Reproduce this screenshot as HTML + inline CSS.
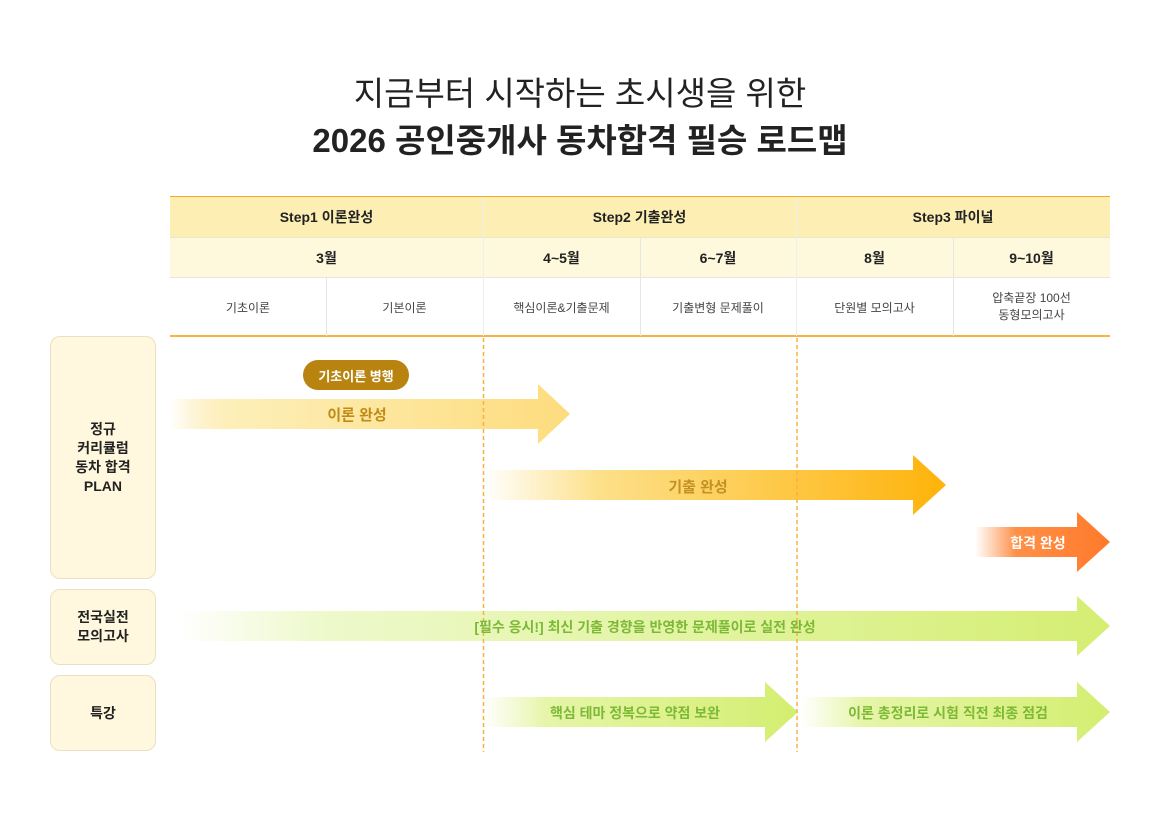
<!DOCTYPE html>
<html><head><meta charset="utf-8"><style>
body{margin:0;width:1160px;height:836px;background:#fff;position:relative;font-family:"Liberation Sans","Noto Sans CJK KR",sans-serif;overflow:hidden}
.a{position:absolute}
.t{position:absolute;text-align:center;white-space:nowrap}
.c{position:absolute;display:flex;align-items:center;justify-content:center;text-align:center;box-sizing:border-box}
.lb{position:absolute;left:50px;width:106px;background:#fff8de;border:1px solid #e9e0c2;border-radius:10px;box-sizing:border-box;display:flex;align-items:center;justify-content:center;text-align:center;font-weight:bold;font-size:14px;color:#222;line-height:19px}
</style></head><body>
<div class="t" style="left:0;width:1160px;top:67px;font-size:33px;color:#222;">지금부터 시작하는 초시생을 위한</div>
<div class="t" style="left:0;width:1160px;top:114px;font-size:33px;font-weight:bold;color:#222;">2026 공인중개사 동차합격 필승 로드맵</div>

<div class="a" style="left:170px;top:196px;width:940px;height:41px;background:#fdefb4;border-top:1.5px solid #f9a825;box-sizing:border-box"></div>
<div class="a" style="left:170px;top:237px;width:940px;height:41px;background:#fef8dc;border-top:1px solid #ece6d0;border-bottom:1px solid #e6e6e6;box-sizing:border-box"></div>
<div class="a" style="left:170px;top:335px;width:940px;height:2px;background:#fbb040"></div>
<div class="a" style="left:483px;top:197px;width:1px;height:139px;background:#eee"></div>
<div class="a" style="left:796px;top:197px;width:1px;height:139px;background:#eee"></div>
<div class="a" style="left:640px;top:237px;width:1px;height:99px;background:#e6e6e6"></div>
<div class="a" style="left:953px;top:237px;width:1px;height:99px;background:#e6e6e6"></div>
<div class="a" style="left:326px;top:278px;width:1px;height:58px;background:#e6e6e6"></div>

<div class="c" style="left:170px;top:196px;width:313px;height:41px;font-size:14px;font-weight:bold;color:#222">Step1 이론완성</div>
<div class="c" style="left:483px;top:196px;width:313px;height:41px;font-size:14px;font-weight:bold;color:#222">Step2 기출완성</div>
<div class="c" style="left:796px;top:196px;width:314px;height:41px;font-size:14px;font-weight:bold;color:#222">Step3 파이널</div>
<div class="c" style="left:170px;top:237px;width:313px;height:41px;font-size:14px;font-weight:bold;color:#222">3월</div>
<div class="c" style="left:483px;top:237px;width:157px;height:41px;font-size:14px;font-weight:bold;color:#222">4~5월</div>
<div class="c" style="left:640px;top:237px;width:156px;height:41px;font-size:14px;font-weight:bold;color:#222">6~7월</div>
<div class="c" style="left:796px;top:237px;width:157px;height:41px;font-size:14px;font-weight:bold;color:#222">8월</div>
<div class="c" style="left:953px;top:237px;width:157px;height:41px;font-size:14px;font-weight:bold;color:#222">9~10월</div>
<div class="c" style="left:170px;top:278px;width:156px;height:58px;font-size:12px;color:#444">기초이론</div>
<div class="c" style="left:326px;top:278px;width:157px;height:58px;font-size:12px;color:#444">기본이론</div>
<div class="c" style="left:483px;top:278px;width:157px;height:58px;font-size:12px;color:#444">핵심이론&amp;기출문제</div>
<div class="c" style="left:640px;top:278px;width:156px;height:58px;font-size:12px;color:#444">기출변형 문제풀이</div>
<div class="c" style="left:796px;top:278px;width:157px;height:58px;font-size:12px;color:#444">단원별 모의고사</div>
<div class="c" style="left:953px;top:278px;width:157px;height:58px;font-size:12px;color:#444;line-height:17px">압축끝장 100선<br>동형모의고사</div>

<div class="lb" style="top:336px;height:243px">정규<br>커리큘럼<br>동차 합격<br>PLAN</div>
<div class="lb" style="top:589px;height:76px">전국실전<br>모의고사</div>
<div class="lb" style="top:675px;height:76px">특강</div>

<svg class="a" style="left:0;top:0" width="1160" height="836">
<defs>
<linearGradient id="g1" gradientUnits="userSpaceOnUse" x1="170" x2="570"><stop offset="0" stop-color="#fde08a" stop-opacity="0"/><stop offset="0.15" stop-color="#fdefb8"/><stop offset="1" stop-color="#fddc7e"/></linearGradient>
<linearGradient id="g2" gradientUnits="userSpaceOnUse" x1="483" x2="946"><stop offset="0" stop-color="#fde28c" stop-opacity="0"/><stop offset="0.25" stop-color="#fde08a"/><stop offset="1" stop-color="#feb30a"/></linearGradient>
<linearGradient id="g3" gradientUnits="userSpaceOnUse" x1="975" x2="1110"><stop offset="0" stop-color="#ff9a5a" stop-opacity="0"/><stop offset="0.3" stop-color="#ff9048"/><stop offset="1" stop-color="#ff7a2a"/></linearGradient>
<linearGradient id="g4" gradientUnits="userSpaceOnUse" x1="180" x2="1110"><stop offset="0" stop-color="#eef8c8" stop-opacity="0"/><stop offset="0.15" stop-color="#eef9cc"/><stop offset="1" stop-color="#d5ee72"/></linearGradient>
<linearGradient id="g5" gradientUnits="userSpaceOnUse" x1="483" x2="798"><stop offset="0" stop-color="#e8f6b0" stop-opacity="0"/><stop offset="0.2" stop-color="#e6f5a8"/><stop offset="1" stop-color="#d4ee70"/></linearGradient>
<linearGradient id="g6" gradientUnits="userSpaceOnUse" x1="800" x2="1110"><stop offset="0" stop-color="#e8f6b0" stop-opacity="0"/><stop offset="0.2" stop-color="#e6f5a8"/><stop offset="1" stop-color="#d4ee70"/></linearGradient>
</defs>
<polygon fill="url(#g1)" points="170,399 538,399 538,384 570,414 538,444 538,429 170,429"/>
<polygon fill="url(#g2)" points="483,470 913,470 913,455 946,485 913,515 913,500 483,500"/>
<polygon fill="url(#g3)" points="975,527 1077,527 1077,512 1110,542 1077,572 1077,557 975,557"/>
<polygon fill="url(#g4)" points="180,611 1077,611 1077,596 1110,626 1077,656 1077,641 180,641"/>
<polygon fill="url(#g5)" points="483,697 765,697 765,682 798,712 765,742 765,727 483,727"/>
<polygon fill="url(#g6)" points="800,697 1077,697 1077,682 1110,712 1077,742 1077,727 800,727"/>
<line x1="483.5" y1="338" x2="483.5" y2="752" stroke="#f9b040" stroke-width="1.5" stroke-dasharray="4,3"/>
<line x1="797" y1="338" x2="797" y2="752" stroke="#f9b040" stroke-width="1.5" stroke-dasharray="4,3"/>
</svg>

<div class="c" style="left:303px;top:360px;width:106px;height:30px;border-radius:15px;background:#b8830f;color:#fff;font-size:13px;font-weight:bold">기초이론 병행</div>
<div class="t" style="left:257px;width:200px;top:404px;font-size:15px;font-weight:bold;color:#c08a14">이론 완성</div>
<div class="t" style="left:598px;width:200px;top:476px;font-size:15px;font-weight:bold;color:#c39024">기출 완성</div>
<div class="t" style="left:978px;width:120px;top:533px;font-size:14px;font-weight:bold;color:#fff">합격 완성</div>
<div class="t" style="left:345px;width:600px;top:617px;font-size:14px;font-weight:bold;color:#7cb936">[필수 응시!] 최신 기출 경향을 반영한 문제풀이로 실전 완성</div>
<div class="t" style="left:485px;width:300px;top:703px;font-size:14px;font-weight:bold;color:#7cb936">핵심 테마 정복으로 약점 보완</div>
<div class="t" style="left:798px;width:300px;top:703px;font-size:14px;font-weight:bold;color:#7cb936">이론 총정리로 시험 직전 최종 점검</div>
</body></html>
